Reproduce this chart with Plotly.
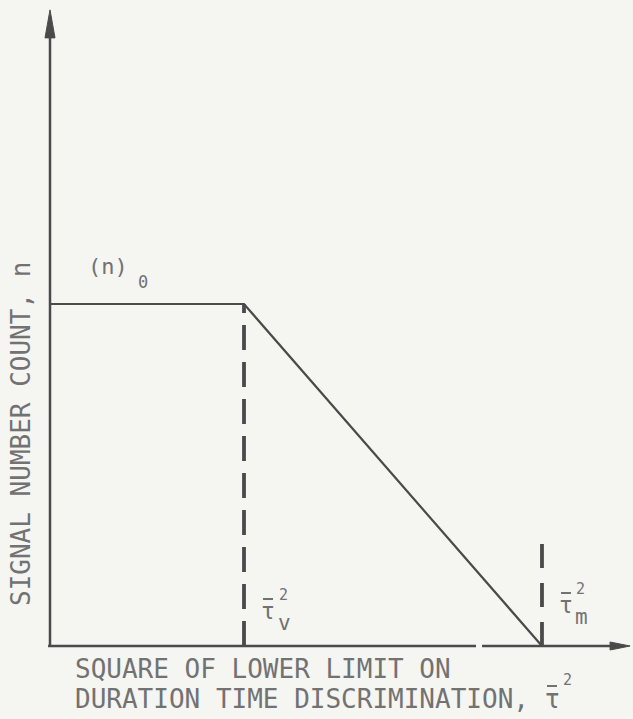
import plotly.graph_objects as go

# Schematic: signal number count vs. square of lower limit on duration time
tau_v_sq = 1.0        # end of the plateau
tau_m_sq = 2.536      # count falls to zero here
n0 = 1.0              # plateau level (n)_0
x_axis_end = 2.99
y_axis_end = 1.86
tau_m_mark_top = 0.304
x_axis_break = (2.196, 2.227)   # small break in the drawn baseline

count_x = [0.0, tau_v_sq, tau_m_sq]
count_y = [n0, n0, 0.0]

W, H = 633, 719
# pixel scale of one data unit along each axis
SX, SY = 194.0, 342.0
X0_PX, Y0_PX = 50.0, 646.0

BG = "#f5f5f2"
INK = "#4a4a4a"
TXT = "#727272"
MONO = "DejaVu Sans Mono"

fig = go.Figure()


def line(xs, ys, width, dash=None):
    fig.add_trace(go.Scatter(x=xs, y=ys, mode="lines", hoverinfo="skip",
                             line=dict(color=INK, width=width, dash=dash)))


def head(xs, ys):
    fig.add_trace(go.Scatter(x=xs, y=ys, mode="lines", fill="toself",
                             fillcolor=INK, line=dict(color=INK, width=1),
                             hoverinfo="skip"))


# axes
line([0, 0], [0, y_axis_end - 0.05], 2.5)
line([-0.01, x_axis_break[0]], [0, 0], 2.5)
line([x_axis_break[1], x_axis_end - 0.05], [0, 0], 2.5)

# arrowheads: long and narrow
hl_y, hw_y = 28 / SY, 5 / SX
head([0, -hw_y, hw_y, 0], [y_axis_end, y_axis_end - hl_y, y_axis_end - hl_y, y_axis_end])
hl_x, hw_x = 20 / SX, 4 / SY
head([x_axis_end, x_axis_end - hl_x, x_axis_end - hl_x, x_axis_end], [0, hw_x, -hw_x, 0])

# count curve
line(count_x, count_y, 2.2)

# dashed markers at tau_v and tau_m (drawn upward from the baseline)
line([tau_v_sq, tau_v_sq], [0, n0], 3.8, dash="25px,12px")
line([tau_m_sq, tau_m_sq], [0, tau_m_mark_top], 3.8, dash="24px,15px")

ann = []
shapes = []


def txt(px, py, s, size, anchor="center", angle=0, family=MONO):
    ann.append(dict(x=px / W, y=1 - py / H, xref="paper", yref="paper",
                    xanchor=anchor, yanchor="middle", showarrow=False,
                    textangle=angle, text=s,
                    font=dict(family=family, size=size, color=TXT)))


def overbar(px, py, half=5):
    shapes.append(dict(type="line", xref="paper", yref="paper",
                       x0=(px - half) / W, x1=(px + half) / W,
                       y0=1 - py / H, y1=1 - py / H,
                       line=dict(color=TXT, width=2)))


def data_px(xv, yv):
    return X0_PX + xv * SX, Y0_PX - yv * SY


# plateau label (n)_0
px, py = data_px(0.0, n0)
txt(px + 58, py - 38, "(n)", 22)
txt(px + 93, py - 22, "0", 17)


# overbarred tau squared, with subscript
def tau_label(xv, sub, dy):
    px, py = data_px(xv, 0)
    txt(px + 24, py - 35 + dy, "τ", 23)
    overbar(px + 24, py - 47 + dy)
    txt(px + 39, py - 51 + dy, "2", 15)
    txt(px + 40, py - 23 + dy, sub, 21)


tau_label(tau_v_sq, "v", 0)
tau_label(tau_m_sq, "m", -6)

# axis titles
txt(73, 669, "SQUARE OF LOWER LIMIT ON", 26, anchor="left")
txt(73, 699, "DURATION TIME DISCRIMINATION, τ", 26, anchor="left")
overbar(552, 686)
txt(567, 680, "2", 15)
txt(21, 434, "SIGNAL NUMBER COUNT, n", 26, angle=-90)

fig.update_layout(
    width=W, height=H,
    margin=dict(l=0, r=0, t=0, b=0),
    paper_bgcolor=BG, plot_bgcolor=BG,
    showlegend=False,
    annotations=ann,
    shapes=shapes,
    xaxis=dict(range=[-X0_PX / SX, (W - X0_PX) / SX], visible=False, fixedrange=True),
    yaxis=dict(range=[(Y0_PX - H) / SY, Y0_PX / SY], visible=False, fixedrange=True),
)

fig.write_html("out.html")
